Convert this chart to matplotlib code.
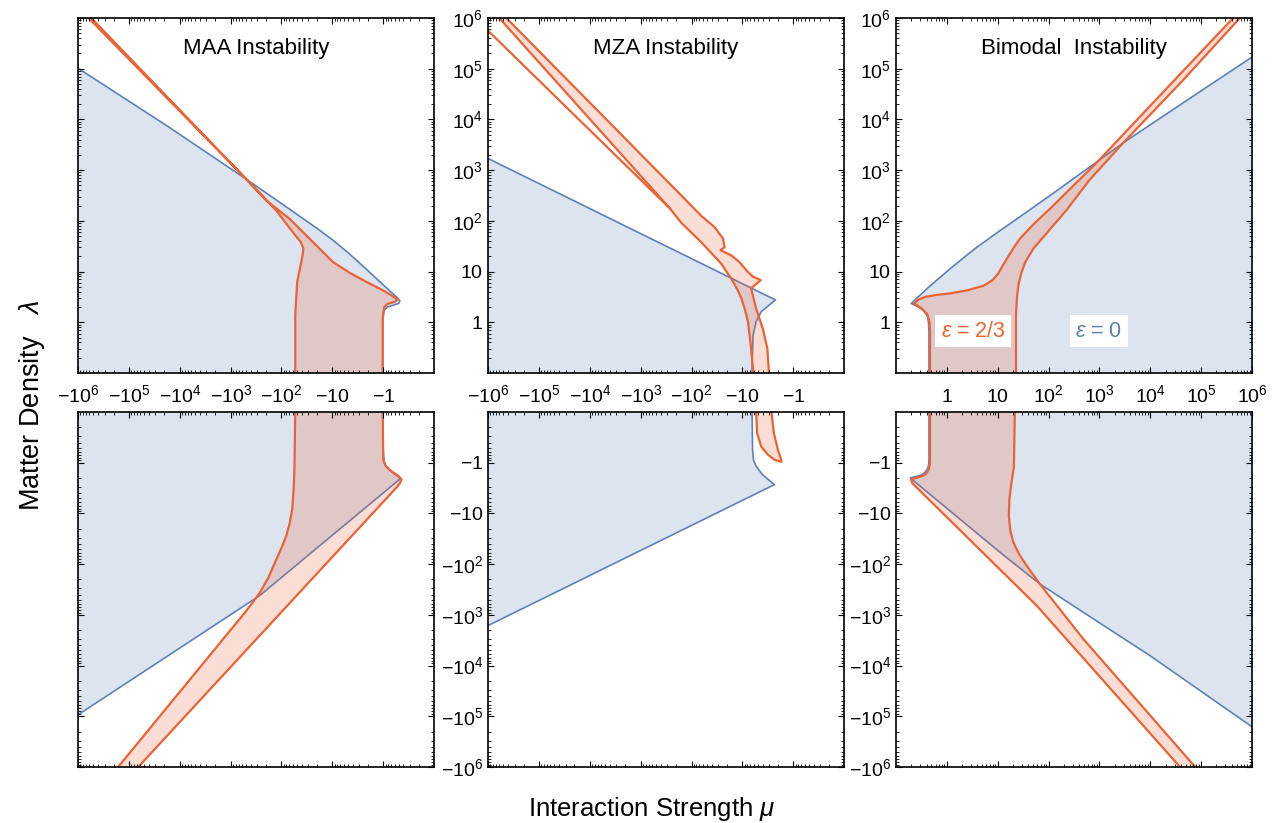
import numpy as np
import matplotlib
matplotlib.use("Agg")
import matplotlib.pyplot as plt
from matplotlib.colors import to_rgba
from matplotlib.ticker import FixedLocator, FuncFormatter, LogLocator, NullFormatter

plt.rcParams['font.family'] = 'Liberation Sans'
plt.rcParams['mathtext.fontset'] = 'custom'
plt.rcParams['mathtext.rm'] = 'Liberation Sans'
plt.rcParams['mathtext.it'] = 'Liberation Sans:italic'
plt.rcParams['mathtext.fallback'] = 'stixsans'

BLUE = '#5E81B5'
ORANGE = '#EB6235'

# Region boundaries, as log10|mu| and log10|lambda|.
# MAA, lambda > 0
maa_pos_blue_mu = [6.2, 6.0, 4.26, 2.69, 1.84, 1.3, 0.99, 0.7, 0.4, 0.1, -0.15, -0.28, -0.33,
                   -0.30, -0.18, -0.08, -0.02, 0.0, 0.01, 0.01, 0.01, 6.2]
maa_pos_blue_lam = [5.15, 5.01, 3.88, 2.82, 2.23, 1.85, 1.62, 1.38, 1.11, 0.83, 0.60, 0.48, 0.42,
                    0.37, 0.33, 0.30, 0.24, 0.12, 0.0, -0.17, -1.2, -1.2]
maa_pos_orng_mu = [1.73, 1.73, 1.73, 1.71, 1.69, 1.65, 1.61, 1.58, 1.57, 1.62, 1.78, 2.10, 2.40,
                   2.69, 5.79, 5.98,
                   5.93, 5.74, 2.71, 2.3, 1.84, 1.4, 0.99, 0.65, 0.34, 0.1, -0.1, -0.22, -0.28,
                   -0.22, -0.08, -0.02, 0.0, 0.01, 0.01, 0.01]
maa_pos_orng_lam = [-1.2, -1.0, 0.14, 0.50, 0.80, 1.0, 1.19, 1.36, 1.46, 1.58, 1.78, 2.20, 2.52,
                    2.82, 6.0, 6.2,
                    6.2, 6.0, 2.84, 2.4, 2.04, 1.6, 1.19, 0.97, 0.80, 0.68, 0.57, 0.49, 0.45,
                    0.40, 0.36, 0.30, 0.18, 0.05, -0.17, -1.2]
# MAA, lambda < 0
maa_neg_blue_mu = [0.01, 0.01, 0.0, -0.02, -0.05, -0.13, -0.22, -0.30, -0.33, 2.43, 6.0, 6.2, 6.2]
maa_neg_blue_lam = [-1.2, -1.0, -0.25, 0.0, 0.07, 0.15, 0.22, 0.28, 0.32, 2.62, 4.97, 5.10, -1.2]
maa_neg_orng_mu = [1.73, 1.73, 1.745, 1.76, 1.79, 1.84, 1.91, 2.0, 2.10, 2.25, 2.43, 2.7, 5.18, 5.38,
                   5.0, 4.78, -0.25, -0.33, -0.36, -0.30, -0.15, -0.05, 0.0, 0.01, 0.01]
maa_neg_orng_lam = [-1.2, -1.0, 0.07, 0.5, 0.92, 1.2, 1.45, 1.68, 1.90, 2.25, 2.57, 2.93, 5.96, 6.2,
                    6.2, 5.96, 0.50, 0.40, 0.33, 0.26, 0.16, 0.06, -0.06, -1.0, -1.2]
# MZA, lambda > 0
mza_pos_blue_mu = [6.2, 6.0, 0.35, 0.63, 0.73, 0.79, 0.81, 0.81, 6.2]
mza_pos_blue_lam = [3.33, 3.23, 0.44, 0.21, 0.01, -0.25, -0.9, -1.2, -1.2]
mza_pos_orng_mu = [5.83, 5.64, 2.20, 1.81, 1.55, 1.38, 1.35, 1.43, 1.22, 1.06, 0.89, 0.79,
                   0.64, 0.83, 0.73, 0.60, 0.51, 0.48, 0.48,
                   0.79, 0.79, 0.83, 0.89, 0.95, 1.02, 1.1, 1.22, 1.42, 1.81, 2.20, 2.43, 5.78, 5.96]
mza_pos_orng_lam = [6.2, 6.0, 2.50, 2.10, 1.88, 1.65, 1.48, 1.42, 1.32, 1.19, 0.99, 0.90,
                    0.83, 0.67, 0.27, -0.12, -0.51, -0.96, -1.2,
                    -1.2, -0.96, -0.51, 0.01, 0.25, 0.47, 0.65, 0.86, 1.16, 1.58, 1.96, 2.25, 6.0, 6.2]
mza_pos_spur_mu = [6.2, 6.0, 2.43]
mza_pos_spur_lam = [5.95, 5.75, 2.25]
# MZA, lambda < 0
mza_neg_blue_mu = [0.81, 0.81, 0.80, 0.78, 0.73, 0.60, 0.37, 6.0, 6.2, 6.2]
mza_neg_blue_lam = [-1.2, -1.0, -0.25, -0.05, 0.07, 0.24, 0.43, 3.21, 3.31, -1.2]
mza_neg_orng_mu = [0.73, 0.73, 0.71, 0.63, 0.50, 0.37, 0.24, 0.23, 0.30, 0.38, 0.43, 0.43]
mza_neg_orng_lam = [-1.2, -1.0, -0.58, -0.32, -0.16, -0.06, -0.02, -0.04, -0.25, -0.58, -1.0, -1.2]
# Bimodal, lambda > 0
bim_pos_blue_mu = [-0.35, -0.35, -0.36, -0.38, -0.45, -0.55, -0.70, -0.35, 0.07, 0.55, 1.05,
                   1.55, 2.03, 2.75, 3.47, 4.65, 6.0, 6.2, 6.2]
bim_pos_blue_lam = [-1.2, -0.18, 0.0, 0.12, 0.22, 0.30, 0.37, 0.70, 1.06, 1.45, 1.81,
                    2.16, 2.50, 3.02, 3.54, 4.33, 5.23, 5.36, -1.2]
bim_pos_orng_mu = [-0.33, -0.33, -0.34, -0.38, -0.49, -0.64, -0.55, -0.43, -0.2, 0.07, 0.4, 0.72,
                   0.9, 1.01, 1.10, 1.18, 1.30, 1.44, 1.7, 2.03, 2.95, 3.99, 5.63, 5.82,
                   5.95, 5.76, 4.65, 3.47, 2.8, 2.36, 2.0, 1.70, 1.55, 1.47, 1.41, 1.38, 1.36, 1.36]
bim_pos_orng_lam = [-1.2, -0.18, 0.0, 0.15, 0.27, 0.37, 0.45, 0.50, 0.54, 0.57, 0.63, 0.72,
                    0.83, 0.96, 1.12, 1.25, 1.45, 1.65, 1.93, 2.24, 3.15, 4.26, 6.0, 6.2,
                    6.2, 6.0, 4.78, 3.54, 2.8, 2.22, 1.8, 1.45, 1.2, 0.99, 0.75, 0.50, 0.14, -1.2]
# Bimodal, lambda < 0
bim_neg_blue_mu = [-0.35, -0.35, -0.36, -0.39, -0.45, -0.52, -0.72, 0.39, 1.1, 1.83, 2.9, 3.99,
                   5.99, 6.2, 6.2]
bim_neg_blue_lam = [-1.2, -0.06, 0.06, 0.14, 0.21, 0.25, 0.30, 1.22, 1.81, 2.39, 3.09, 3.80,
                    5.20, 5.35, -1.2]
bim_neg_orng_mu = [-0.33, -0.33, -0.36, -0.43, -0.58, -0.70, -0.68, -0.62, 1.77, 4.55, 4.76,
                   5.06, 4.85, 2.68, 1.83, 1.57, 1.42, 1.31, 1.25, 1.22, 1.23, 1.27, 1.32, 1.34]
bim_neg_orng_lam = [-1.2, 0.01, 0.15, 0.24, 0.29, 0.33, 0.40, 0.46, 2.82, 5.96, 6.2,
                    6.2, 5.96, 3.47, 2.39, 2.03, 1.80, 1.57, 1.35, 1.05, 0.73, 0.40, 0.07, -1.2]

titles = ['MAA Instability', 'MZA Instability', 'Bimodal  Instability']
decades = [0, 1, 2, 3, 4, 5, 6]

panels = {
    (0, 0): [(maa_pos_blue_mu, maa_pos_blue_lam, BLUE), (maa_pos_orng_mu, maa_pos_orng_lam, ORANGE)],
    (1, 0): [(maa_neg_blue_mu, maa_neg_blue_lam, BLUE), (maa_neg_orng_mu, maa_neg_orng_lam, ORANGE)],
    (0, 1): [(mza_pos_blue_mu, mza_pos_blue_lam, BLUE), (mza_pos_orng_mu, mza_pos_orng_lam, ORANGE)],
    (1, 1): [(mza_neg_blue_mu, mza_neg_blue_lam, BLUE), (mza_neg_orng_mu, mza_neg_orng_lam, ORANGE)],
    (0, 2): [(bim_pos_blue_mu, bim_pos_blue_lam, BLUE), (bim_pos_orng_mu, bim_pos_orng_lam, ORANGE)],
    (1, 2): [(bim_neg_blue_mu, bim_neg_blue_lam, BLUE), (bim_neg_orng_mu, bim_neg_orng_lam, ORANGE)],
}


def power_label(n, negative):
    if n == 0:
        s = '1'
    elif n == 1:
        s = '10'
    else:
        s = '10^{%d}' % n
    return ('$-%s$' if negative else '$%s$') % s


def set_log_axis(axis, negative, labelled):
    axis.set_major_locator(FixedLocator([10.0 ** n for n in decades]))
    axis.set_minor_locator(LogLocator(base=10, subs=np.arange(2, 10), numticks=100))
    axis.set_minor_formatter(NullFormatter())
    if labelled:
        axis.set_major_formatter(FuncFormatter(
            lambda v, pos: power_label(int(round(np.log10(v))), negative)))
    else:
        axis.set_major_formatter(NullFormatter())


fig = plt.figure(figsize=(12.73, 8.23), dpi=100)
lefts = [0.0613, 0.3834, 0.7038]
bottoms = [0.5468, 0.0680]

for (row, col), regions in panels.items():
    ax = fig.add_axes([lefts[col], bottoms[row], 0.2797, 0.4313])
    ax.set_xscale('log')
    ax.set_yscale('log')
    for mu, lam, color in regions:
        ax.fill(10.0 ** np.array(mu), 10.0 ** np.array(lam),
                facecolor=to_rgba(color, 0.21), edgecolor=color,
                linewidth=1.6 if color == ORANGE else 1.2, joinstyle='round')
    if (row, col) == (0, 1):
        ax.plot(10.0 ** np.array(mza_pos_spur_mu), 10.0 ** np.array(mza_pos_spur_lam),
                color=ORANGE, lw=1.6)

    if col < 2:
        ax.set_xlim(1e6, 0.1)
    else:
        ax.set_xlim(0.1, 1e6)
    if row == 0:
        ax.set_ylim(0.1, 1e6)
    else:
        ax.set_ylim(1e6, 0.1)

    set_log_axis(ax.xaxis, col < 2, row == 0)
    set_log_axis(ax.yaxis, row == 1, col > 0)
    ax.tick_params(which='both', direction='in', top=True, right=True,
                   labelsize=14, colors='black')
    ax.tick_params(which='major', length=4.5, width=0.8)
    ax.tick_params(which='minor', length=2.3, width=0.6)
    ax.tick_params(axis='x', pad=21)
    ax.tick_params(axis='y', pad=3.5)
    for lbl in ax.get_xticklabels():
        lbl.set_verticalalignment('baseline')
    for sp in ax.spines.values():
        sp.set_linewidth(1.2)

    if row == 0:
        ax.text(0.5, 0.913, titles[col], transform=ax.transAxes,
                ha='center', va='center', fontsize=16)
    if (row, col) == (0, 2):
        ax.text(10 ** 0.52, 10 ** -0.18, '$\\epsilon$ = 2/3', color=ORANGE, fontsize=15.5,
                ha='center', va='center', zorder=5,
                bbox=dict(facecolor='white', edgecolor='none', pad=4))
        ax.text(10 ** 2.99, 10 ** -0.18, '$\\epsilon$ = 0', color=BLUE, fontsize=15.5,
                ha='center', va='center', zorder=5,
                bbox=dict(facecolor='white', edgecolor='none', pad=4))

fig.text(652 / 1273, 1 - 809 / 823, r'Interaction Strength $\mu$',
         ha='center', va='center', fontsize=18.5)
fig.text(32 / 1273, 1 - 405 / 823, r'Matter Density   $\lambda$',
         ha='center', va='center', rotation=90, fontsize=19.5)

fig.savefig('out.png', dpi=100)
